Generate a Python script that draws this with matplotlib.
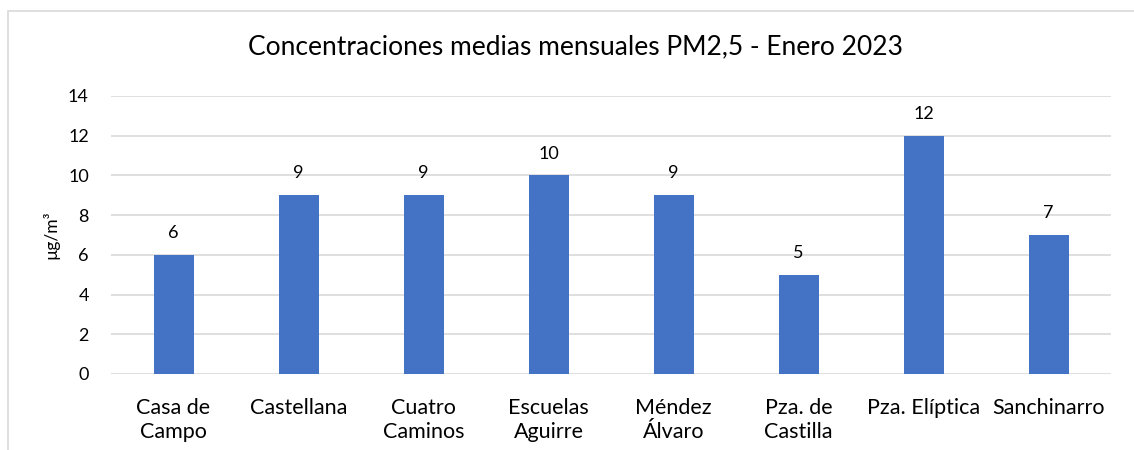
import matplotlib.pyplot as plt
from matplotlib.patches import Rectangle

estaciones = ["Casa de\nCampo", "Castellana", "Cuatro\nCaminos", "Escuelas\nAguirre",
              "Méndez\nÁlvaro", "Pza. de\nCastilla", "Pza. Elíptica", "Sanchinarro"]
valores = [6, 9, 9, 10, 9, 5, 12, 7]
yticks = [0, 2, 4, 6, 8, 10, 12, 14]

plt.rcParams['font.family'] = ['Lato', 'DejaVu Sans']

W, H = 1134, 450
fig = plt.figure(figsize=(W / 100, H / 100), dpi=100)
ax = fig.add_axes([111 / W, 1 - 374 / H, 1000 / W, 278 / H])

# chart border (only left and top edges visible in the crop)
fig.patches.append(Rectangle((8 / W, -0.1), 1.2, 1 - 11 / H + 0.1, transform=fig.transFigure,
                             fill=False, edgecolor='#d9d9d9', linewidth=1.2))

x = range(len(estaciones))
bars = ax.bar(x, valores, width=0.32, color='#4472C4', zorder=3)
for b, v in zip(bars, valores):
    ax.text(b.get_x() + b.get_width() / 2, v + 1.1, str(v), ha='center', va='center',
            fontsize=13, color='#000000')

ax.set_xlim(-0.5, len(estaciones) - 0.5)
ax.set_ylim(0, 14)
ax.set_yticks(yticks)
ax.set_xticks(list(x))
ax.set_xticklabels(estaciones, fontsize=15.5, linespacing=1.3)
ax.tick_params(axis='y', labelsize=13, length=0, pad=16)
ax.tick_params(axis='x', length=0, pad=17)
ax.grid(axis='y', color='#d9d9d9', linewidth=1.2, zorder=0)
for s in ax.spines.values():
    s.set_visible(False)

ax.set_ylabel('µg/m³', fontsize=12.5, labelpad=6)
fig.text(575 / W, 1 - 47 / H, 'Concentraciones medias mensuales PM2,5 - Enero 2023',
         ha='center', va='center', fontsize=19)

fig.savefig('out.png', dpi=100)
